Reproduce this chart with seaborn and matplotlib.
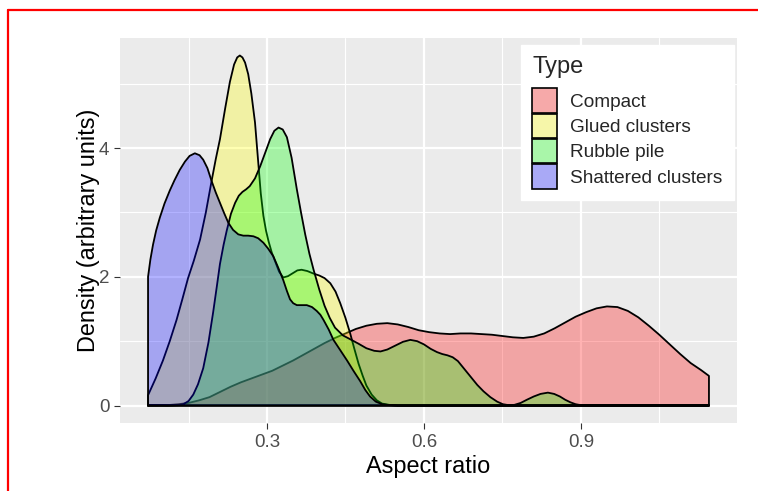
import numpy as np
import matplotlib
matplotlib.use("Agg")
import matplotlib.pyplot as plt
import seaborn as sns
from matplotlib.lines import Line2D
from matplotlib.patches import Patch
from matplotlib.ticker import FixedLocator

# ---------------- data ----------------
types = ["Compact", "Glued clusters", "Rubble pile", "Shattered clusters"]
type_colors = [(1.0, 0.0, 0.0), (1.0, 1.0, 0.0), (0.0, 1.0, 0.0), (0.0, 0.0, 1.0)]

compact_x = [0.0725, 0.09, 0.11, 0.13, 0.15, 0.17, 0.19, 0.21, 0.23, 0.25, 0.27, 0.29,
             0.31, 0.33, 0.35, 0.37, 0.39, 0.41, 0.43, 0.45, 0.47, 0.49, 0.51, 0.53,
             0.55, 0.57, 0.59, 0.61, 0.63, 0.65, 0.67, 0.69, 0.71, 0.73, 0.75, 0.77,
             0.79, 0.81, 0.83, 0.85, 0.87, 0.89, 0.91, 0.93, 0.95, 0.97, 0.99, 1.01,
             1.03, 1.05, 1.07, 1.09, 1.11, 1.13, 1.145]
compact_y = [0.0, 0.001, 0.006, 0.02, 0.04, 0.08, 0.13, 0.21, 0.29, 0.36, 0.42, 0.48,
             0.54, 0.62, 0.70, 0.79, 0.88, 0.97, 1.05, 1.12, 1.19, 1.24, 1.27, 1.28,
             1.26, 1.22, 1.17, 1.14, 1.12, 1.11, 1.12, 1.12, 1.11, 1.10, 1.08, 1.06,
             1.05, 1.07, 1.12, 1.20, 1.29, 1.38, 1.45, 1.51, 1.54, 1.53, 1.47, 1.37,
             1.24, 1.10, 0.95, 0.80, 0.66, 0.55, 0.46]

glued_x = [0.0725, 0.087, 0.101, 0.114, 0.127, 0.138, 0.149, 0.16, 0.172, 0.183, 0.194,
           0.202, 0.21, 0.22, 0.229, 0.237, 0.243, 0.248, 0.253, 0.258, 0.264, 0.27,
           0.277, 0.283, 0.288, 0.293, 0.298, 0.303, 0.309, 0.315, 0.323, 0.331, 0.34,
           0.35, 0.358, 0.366, 0.377, 0.389, 0.40, 0.41, 0.421, 0.431, 0.44, 0.45,
           0.459, 0.467, 0.475, 0.483, 0.49, 0.50, 0.51, 0.52, 0.535, 0.55, 1.145]
glued_y = [0.16, 0.42, 0.70, 1.0, 1.33, 1.65, 1.98, 2.25, 2.58, 3.0, 3.49,
           3.83, 4.14, 4.62, 5.03, 5.30, 5.41, 5.44, 5.41, 5.33, 5.15, 4.85,
           4.40, 3.80, 3.30, 2.95, 2.72, 2.55, 2.38, 2.25, 2.08, 1.99, 2.01,
           2.06, 2.10, 2.11, 2.09, 2.05, 2.02, 1.98, 1.90, 1.77, 1.59, 1.36,
           1.12, 0.88, 0.65, 0.46, 0.31, 0.17, 0.08, 0.03, 0.008, 0.0, 0.0]

rubble_x = [0.0725, 0.09, 0.11, 0.13, 0.14, 0.15, 0.159, 0.168, 0.178, 0.188, 0.197,
            0.204, 0.21, 0.217, 0.223, 0.231, 0.239, 0.246, 0.253, 0.26, 0.267, 0.277,
            0.287, 0.297, 0.306, 0.314, 0.322, 0.33, 0.338, 0.347, 0.357, 0.365, 0.373,
            0.381, 0.389, 0.40, 0.41, 0.42, 0.43, 0.445, 0.459, 0.475, 0.49, 0.505,
            0.517, 0.53, 0.545, 0.56, 0.574, 0.587, 0.60, 0.613, 0.625, 0.635, 0.645,
            0.655, 0.665, 0.677, 0.69, 0.702, 0.714, 0.727, 0.74, 0.751, 0.762, 0.773,
            0.785, 0.797, 0.81, 0.823, 0.837, 0.849, 0.86, 0.87, 0.88, 0.89, 0.90,
            0.915, 1.145]
rubble_y = [0.01, 0.005, 0.0, 0.005, 0.02, 0.07, 0.17, 0.33, 0.58, 0.98, 1.45,
            1.85, 2.2, 2.5, 2.72, 2.98, 3.15, 3.26, 3.32, 3.36, 3.41, 3.53,
            3.72, 3.94, 4.14, 4.27, 4.32, 4.29, 4.17, 3.85, 3.36, 3.0, 2.66,
            2.36, 2.11, 1.80, 1.55, 1.36, 1.21, 1.09, 1.03, 0.96, 0.89, 0.85,
            0.84, 0.87, 0.93, 0.99, 1.02, 1.0, 0.95, 0.88, 0.83, 0.80, 0.78,
            0.75, 0.69, 0.57, 0.44, 0.32, 0.22, 0.13, 0.06, 0.02, 0.005, 0.01,
            0.04, 0.09, 0.14, 0.18, 0.20, 0.18, 0.14, 0.09, 0.05, 0.02, 0.005,
            0.0, 0.0]

shattered_x = [0.0725, 0.077, 0.082, 0.088, 0.095, 0.104, 0.114, 0.123, 0.133, 0.143,
               0.152, 0.162, 0.171, 0.178, 0.186, 0.194, 0.202, 0.21, 0.218, 0.226,
               0.235, 0.245, 0.2546, 0.264, 0.274, 0.283, 0.293, 0.302, 0.312, 0.321,
               0.331, 0.338, 0.344, 0.35, 0.357, 0.366, 0.376, 0.386, 0.395, 0.402,
               0.408, 0.418, 0.427, 0.44, 0.453, 0.466, 0.478, 0.488, 0.497, 0.508,
               0.52, 0.535, 0.55, 1.145]
shattered_y = [2.0, 2.27, 2.5, 2.72, 2.92, 3.14, 3.34, 3.5, 3.66, 3.79,
               3.88, 3.92, 3.89, 3.82, 3.69, 3.49, 3.31, 3.15, 2.99, 2.84,
               2.73, 2.66, 2.64, 2.64, 2.63, 2.60, 2.53, 2.44, 2.32, 2.15,
               1.95, 1.78, 1.65, 1.59, 1.56, 1.56, 1.56, 1.53, 1.47, 1.41,
               1.33, 1.18, 1.02, 0.86, 0.70, 0.53, 0.38, 0.24, 0.14, 0.06,
               0.02, 0.005, 0.0, 0.0]

series_x = [compact_x, glued_x, rubble_x, shattered_x]
series_y = [compact_y, glued_y, rubble_y, shattered_y]

x_ticks = [0.3, 0.6, 0.9]
x_minor = [0.15, 0.45, 0.75, 1.05]
y_ticks = [0, 2, 4]
y_minor = [1, 3, 5]

# ---------------- style ----------------
sns.set_theme(style="darkgrid", rc={"axes.facecolor": "#EBEBEB", "grid.color": "white"})
plt.rcParams["font.family"] = ["Liberation Sans", "DejaVu Sans"]

W, H = 758, 491
fig = plt.figure(figsize=(W / 100, H / 100), dpi=100)
fig.patch.set_facecolor("white")
ax = fig.add_axes([120 / W, 1 - 423 / H, 617 / W, 385 / H])

ALPHA = 0.3
for i, (name, col, xs, ys) in enumerate(zip(types, type_colors, series_x, series_y)):
    xs = np.asarray(xs, float)
    ys = np.asarray(ys, float)
    ax.fill_between(xs, ys, 0, facecolor=(*col, ALPHA), edgecolor="none",
                    linewidth=0, zorder=2 + 2 * i)
    px = np.concatenate([[xs[0]], xs, [xs[-1], xs[0]]])
    py = np.concatenate([[0.0], ys, [0.0, 0.0]])
    sns.lineplot(x=px, y=py, sort=False, estimator=None, color="black",
                 linewidth=1.3, ax=ax, zorder=3 + 2 * i, solid_joinstyle="round")

# limits with ggplot-like 5% expansion
all_x = np.concatenate([np.asarray(v, float) for v in series_x])
all_y = np.concatenate([np.asarray(v, float) for v in series_y])
xr = all_x.max() - all_x.min()
ax.set_xlim(all_x.min() - 0.05 * xr, all_x.max() + 0.05 * xr)
ymax = all_y.max()
ax.set_ylim(-0.05 * ymax, 1.05 * ymax)

ax.xaxis.set_major_locator(FixedLocator(x_ticks))
ax.xaxis.set_minor_locator(FixedLocator(x_minor))
ax.yaxis.set_major_locator(FixedLocator(y_ticks))
ax.yaxis.set_minor_locator(FixedLocator(y_minor))
ax.set_xticklabels([f"{v:g}" for v in x_ticks])
ax.set_yticklabels([f"{v:g}" for v in y_ticks])

ax.grid(which="major", color="white", linewidth=1.6)
ax.grid(which="minor", color="white", linewidth=0.8)
ax.set_axisbelow(True)
for s in ax.spines.values():
    s.set_visible(False)

ax.tick_params(which="major", bottom=True, left=True, length=4.2, width=0.8,
               color="#333333", labelcolor="#4D4D4D", labelsize=13.5, pad=3.4)
ax.tick_params(which="minor", length=0)

ax.set_xlabel("Aspect ratio", fontsize=16.9, color="black", labelpad=3)
ax.set_ylabel("Density (arbitrary units)", fontsize=16.9, color="black", labelpad=-1)

# legend
grey95 = np.array([0.949, 0.949, 0.949])
handles = [Patch(facecolor=tuple(ALPHA * np.array(c) + (1 - ALPHA) * grey95),
                 edgecolor="black", linewidth=1.2) for c in type_colors]
leg = fig.legend(handles, types, title="Type", loc="upper left",
                 bbox_to_anchor=(521 / W, 1 - 45 / H), frameon=True, fancybox=False,
                 edgecolor="white", facecolor="white", framealpha=1,
                 fontsize=13.7, title_fontsize=17, handlelength=1.3, handleheight=1.6,
                 labelspacing=0.05, handletextpad=0.7, borderpad=0.6,
                 alignment="left", borderaxespad=0)
leg._legend_box.sep = 7

# red frame seen at the top/left of the reference
fig.add_artist(Line2D([8 / W, 1.0], [1 - 10 / H, 1 - 10 / H], transform=fig.transFigure,
                      color="red", linewidth=1.6))
fig.add_artist(Line2D([8 / W, 8 / W], [0.0, 1 - 10 / H], transform=fig.transFigure,
                      color="red", linewidth=1.6))

fig.savefig("out.png", dpi=100)
